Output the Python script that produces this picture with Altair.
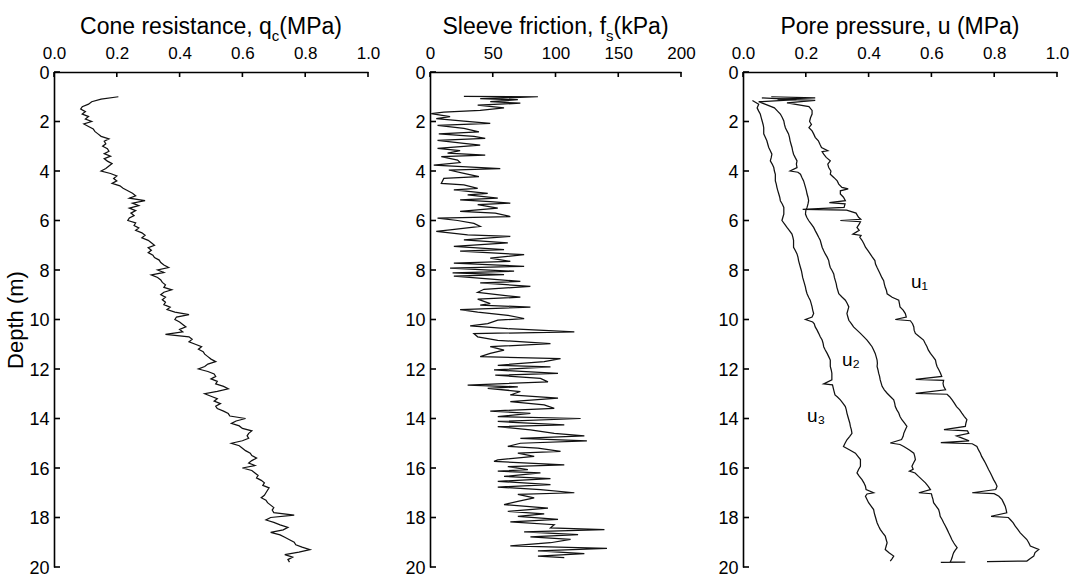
import altair as alt
import pandas as pd

FONT = "Liberation Sans"

# ---------------- data ----------------
depth_ticks = [0, 2, 4, 6, 8, 10, 12, 14, 16, 18, 20]
qc_ticks = [0.0, 0.2, 0.4, 0.6, 0.8, 1.0]
fs_ticks = [0, 50, 100, 150, 200]
u_ticks = [0.0, 0.2, 0.4, 0.6, 0.8, 1.0]

# Cone resistance qc (MPa)
qc_depth = [1.0, 1.1, 1.2, 1.3, 1.4, 1.5, 1.6, 1.7, 1.8, 1.9, 2.0, 2.1, 2.2, 2.3, 2.4, 2.5, 2.6, 2.7, 2.8, 2.9,
            3.0, 3.1, 3.2, 3.3, 3.4, 3.5, 3.6, 3.7, 3.8, 3.9, 4.0, 4.1, 4.2, 4.3, 4.4, 4.5, 4.6, 4.7, 4.8, 4.9,
            5.0, 5.1, 5.2, 5.3, 5.4, 5.5, 5.6, 5.7, 5.8, 5.9, 6.0, 6.1, 6.2, 6.3, 6.4, 6.5, 6.6, 6.7, 6.8, 6.9,
            7.0, 7.1, 7.2, 7.3, 7.4, 7.5, 7.6, 7.7, 7.8, 7.9, 8.0, 8.1, 8.2, 8.3, 8.4, 8.5, 8.6, 8.7, 8.8, 8.9,
            9.0, 9.1, 9.2, 9.3, 9.4, 9.5, 9.6, 9.7, 9.8, 9.9, 10.0, 10.1, 10.2, 10.3, 10.4, 10.5, 10.6, 10.7, 10.8, 10.9,
            11.0, 11.1, 11.2, 11.3, 11.4, 11.5, 11.6, 11.7, 11.8, 11.9, 12.0, 12.1, 12.2, 12.3, 12.4, 12.5, 12.6, 12.7, 12.8, 12.9,
            13.0, 13.1, 13.2, 13.3, 13.4, 13.5, 13.6, 13.7, 13.8, 13.9, 14.0, 14.1, 14.2, 14.3, 14.4, 14.5, 14.6, 14.7, 14.8, 14.9,
            15.0, 15.1, 15.2, 15.3, 15.4, 15.5, 15.6, 15.7, 15.8, 15.9, 16.0, 16.1, 16.2, 16.3, 16.4, 16.5, 16.6, 16.7, 16.8, 16.9,
            17.0, 17.1, 17.2, 17.3, 17.4, 17.5, 17.6, 17.7, 17.8, 17.9, 18.0, 18.1, 18.2, 18.3, 18.4, 18.5, 18.6, 18.7, 18.8, 18.9,
            19.0, 19.1, 19.2, 19.3, 19.4, 19.5, 19.6, 19.7, 19.8]
qc_value = [0.205, 0.15, 0.12, 0.11, 0.09, 0.085, 0.10, 0.09, 0.11, 0.10, 0.12, 0.095, 0.11, 0.125, 0.13, 0.14, 0.15, 0.175, 0.16, 0.165,
            0.155, 0.17, 0.175, 0.16, 0.18, 0.16, 0.17, 0.185, 0.175, 0.165, 0.15, 0.18, 0.20, 0.19, 0.20, 0.185, 0.21, 0.22, 0.235, 0.25,
            0.26, 0.24, 0.29, 0.25, 0.27, 0.24, 0.26, 0.245, 0.255, 0.24, 0.235, 0.26, 0.255, 0.27, 0.26, 0.28, 0.29, 0.28, 0.30, 0.31,
            0.32, 0.30, 0.31, 0.30, 0.315, 0.32, 0.335, 0.34, 0.35, 0.365, 0.33, 0.35, 0.31, 0.33, 0.34, 0.345, 0.355, 0.35, 0.375, 0.35,
            0.34, 0.355, 0.345, 0.355, 0.35, 0.37, 0.36, 0.385, 0.43, 0.39, 0.385, 0.40, 0.41, 0.42, 0.40, 0.41, 0.355, 0.43, 0.44, 0.43,
            0.45, 0.47, 0.46, 0.475, 0.48, 0.49, 0.50, 0.515, 0.49, 0.48, 0.46, 0.49, 0.51, 0.515, 0.50, 0.52, 0.515, 0.54, 0.555, 0.52,
            0.48, 0.50, 0.52, 0.51, 0.53, 0.515, 0.52, 0.54, 0.555, 0.56, 0.61, 0.58, 0.565, 0.59, 0.60, 0.63, 0.62, 0.615, 0.62, 0.60,
            0.565, 0.59, 0.60, 0.61, 0.625, 0.63, 0.645, 0.63, 0.62, 0.64, 0.60, 0.63, 0.64, 0.65, 0.645, 0.66, 0.67, 0.665, 0.685, 0.68,
            0.675, 0.67, 0.66, 0.675, 0.68, 0.69, 0.70, 0.695, 0.70, 0.765, 0.69, 0.675, 0.70, 0.72, 0.745, 0.73, 0.69, 0.72, 0.735, 0.75,
            0.765, 0.77, 0.79, 0.815, 0.78, 0.735, 0.76, 0.745, 0.75]

# Sleeve friction fs (kPa)
fs_depth = [0.98, 1.00, 1.08, 1.12, 1.20, 1.26, 1.34, 1.45, 1.55, 1.62, 1.68, 1.80, 1.88, 1.98, 2.08, 2.16, 2.28, 2.42, 2.50, 2.60,
            2.68, 2.76, 2.88, 2.95, 3.09, 3.18, 3.28, 3.36, 3.42, 3.56, 3.66, 3.76, 3.90, 3.96, 4.10, 4.23, 4.30, 4.50, 4.56, 4.70,
            4.76, 4.90, 4.96, 5.10, 5.17, 5.24, 5.30, 5.36, 5.50, 5.63, 5.70, 5.84, 5.90, 6.00, 6.12, 6.24, 6.38, 6.44, 6.58, 6.64,
            6.78, 6.90, 7.05, 7.18, 7.24, 7.38, 7.52, 7.65, 7.72, 7.85, 7.92, 8.05, 8.12, 8.19, 8.25, 8.46, 8.52, 8.66, 8.78, 8.90,
            9.10, 9.18, 9.36, 9.42, 9.50, 9.60, 9.70, 9.83, 9.96, 10.03, 10.17, 10.26, 10.37, 10.50, 10.57, 10.70, 10.84, 10.97, 11.10, 11.24,
            11.37, 11.50, 11.58, 11.70, 11.85, 11.91, 12.04, 12.18, 12.25, 12.38, 12.52, 12.65, 12.72, 12.78, 12.91, 13.05, 13.18, 13.32, 13.45, 13.59,
            13.70, 13.79, 13.92, 14.00, 14.12, 14.26, 14.33, 14.46, 14.60, 14.70, 14.80, 14.90, 15.00, 15.13, 15.20, 15.33, 15.40, 15.53, 15.67, 15.73,
            15.87, 15.94, 16.07, 16.13, 16.20, 16.34, 16.43, 16.54, 16.67, 16.77, 16.87, 17.00, 17.07, 17.21, 17.35, 17.48, 17.62, 17.75, 17.85, 17.95,
            18.08, 18.18, 18.29, 18.42, 18.49, 18.58, 18.69, 18.78, 18.88, 19.02, 19.15, 19.25, 19.35, 19.46, 19.56, 19.62]
fs_value = [27, 86, 40, 70, 48, 72, 38, 59, 40, 11, 1, 16, 5, 27, 48, 6, 27, 39, 7, 35,
            44, 6, 27, 40, 6, 24, 14, 44, 9, 22, 24, 3, 56, 15, 27, 39, 11, 9, 27, 38,
            19, 46, 30, 54, 24, 48, 64, 38, 54, 24, 52, 64, 6, 22, 35, 40, 16, 5, 30, 64,
            27, 62, 19, 59, 24, 75, 48, 64, 19, 75, 16, 67, 18, 59, 19, 72, 40, 80, 43, 38,
            72, 38, 48, 40, 80, 24, 38, 62, 75, 54, 46, 32, 62, 115, 35, 38, 54, 96, 48, 59,
            48, 40, 104, 91, 54, 96, 51, 102, 52, 88, 94, 30, 70, 46, 72, 64, 102, 64, 91, 99,
            48, 80, 54, 120, 54, 107, 54, 80, 99, 123, 72, 125, 72, 62, 86, 104, 70, 83, 54, 51,
            107, 62, 78, 54, 88, 59, 96, 54, 96, 54, 88, 115, 70, 83, 70, 59, 94, 62, 91, 70,
            102, 64, 99, 96, 139, 75, 118, 80, 112, 96, 64, 141, 86, 123, 86, 107]

# Pore pressures (MPa)
u1_depth = [1.00, 1.05, 1.10, 1.15, 1.25, 1.40, 1.55, 1.70, 1.85, 2.00, 2.12, 2.25, 2.38, 2.50, 2.64, 2.78, 2.92, 3.05, 3.18, 3.22,
            3.32, 3.45, 3.59, 3.72, 3.86, 4.00, 4.13, 4.27, 4.40, 4.53, 4.66, 4.72, 4.80, 4.93, 5.06, 5.20, 5.28, 5.33, 5.47, 5.55,
            5.58, 5.70, 5.87, 5.95, 6.00, 6.05, 6.15, 6.28, 6.40, 6.55, 6.60, 6.68, 6.80, 6.94, 7.08, 7.22, 7.35, 7.48, 7.62, 7.76,
            7.90, 8.03, 8.16, 8.30, 8.43, 8.56, 8.70, 8.83, 8.96, 9.10, 9.22, 9.35, 9.49, 9.62, 9.76, 9.90, 10.00, 10.05, 10.17, 10.30,
            10.43, 10.56, 10.70, 10.83, 10.96, 11.10, 11.23, 11.37, 11.50, 11.64, 11.77, 11.90, 12.04, 12.17, 12.30, 12.42, 12.46, 12.58, 12.70, 12.84,
            12.98, 13.02, 13.12, 13.25, 13.38, 13.52, 13.65, 13.78, 13.92, 14.05, 14.18, 14.32, 14.45, 14.50, 14.60, 14.70, 14.80, 14.90, 14.97, 15.02,
            15.13, 15.27, 15.40, 15.53, 15.66, 15.80, 15.93, 16.06, 16.20, 16.33, 16.47, 16.60, 16.74, 16.87, 17.00, 17.04, 17.14, 17.28, 17.41, 17.54,
            17.68, 17.81, 17.95, 18.00, 18.08, 18.21, 18.35, 18.48, 18.62, 18.75, 18.89, 19.02, 19.15, 19.29, 19.42, 19.56, 19.66, 19.76, 19.78]
u1_value = [0.09, 0.23, 0.11, 0.23, 0.14, 0.21, 0.22, 0.22, 0.215, 0.212, 0.218, 0.21, 0.22, 0.225, 0.23, 0.24, 0.245, 0.25, 0.27, 0.252,
            0.257, 0.265, 0.278, 0.27, 0.273, 0.28, 0.278, 0.29, 0.30, 0.305, 0.315, 0.335, 0.31, 0.31, 0.32, 0.326, 0.275, 0.325, 0.322, 0.19,
            0.33, 0.36, 0.368, 0.375, 0.31, 0.374, 0.37, 0.363, 0.37, 0.35, 0.376, 0.372, 0.379, 0.385, 0.39, 0.398, 0.405, 0.412, 0.42, 0.422,
            0.427, 0.432, 0.437, 0.442, 0.448, 0.45, 0.453, 0.457, 0.459, 0.475, 0.496, 0.498, 0.50, 0.51, 0.517, 0.52, 0.485, 0.533, 0.54, 0.544,
            0.545, 0.549, 0.562, 0.575, 0.58, 0.586, 0.59, 0.597, 0.605, 0.613, 0.615, 0.618, 0.624, 0.629, 0.633, 0.55, 0.639, 0.637, 0.639, 0.645,
            0.55, 0.65, 0.658, 0.666, 0.673, 0.68, 0.69, 0.697, 0.705, 0.713, 0.71, 0.708, 0.64, 0.715, 0.719, 0.68, 0.70, 0.72, 0.63, 0.73,
            0.745, 0.75, 0.756, 0.76, 0.766, 0.772, 0.777, 0.782, 0.788, 0.793, 0.798, 0.804, 0.809, 0.805, 0.73, 0.80, 0.815, 0.825, 0.83, 0.835,
            0.838, 0.84, 0.79, 0.845, 0.851, 0.86, 0.867, 0.875, 0.883, 0.893, 0.904, 0.91, 0.915, 0.942, 0.93, 0.926, 0.915, 0.904, 0.777]

u2_depth = [1.05, 1.12, 1.20, 1.30, 1.45, 1.58, 1.70, 1.84, 1.98, 2.12, 2.25, 2.38, 2.50, 2.64, 2.78, 2.92, 3.05, 3.18, 3.32, 3.45,
            3.59, 3.72, 3.86, 4.00, 4.05, 4.13, 4.27, 4.40, 4.53, 4.66, 4.80, 4.93, 5.06, 5.20, 5.33, 5.47, 5.60, 5.74, 5.87, 6.00,
            6.14, 6.28, 6.41, 6.55, 6.68, 6.80, 6.94, 7.08, 7.22, 7.35, 7.48, 7.62, 7.76, 7.90, 8.03, 8.16, 8.30, 8.43, 8.56, 8.70,
            8.83, 8.96, 9.10, 9.22, 9.35, 9.49, 9.62, 9.76, 9.90, 10.03, 10.17, 10.30, 10.43, 10.56, 10.70, 10.83, 10.96, 11.10, 11.23, 11.37,
            11.50, 11.64, 11.77, 11.90, 12.04, 12.17, 12.30, 12.44, 12.57, 12.70, 12.84, 12.98, 13.12, 13.25, 13.38, 13.52, 13.65, 13.78, 13.92, 14.05,
            14.18, 14.32, 14.45, 14.60, 14.72, 14.85, 14.99, 15.05, 15.13, 15.27, 15.40, 15.53, 15.66, 15.80, 15.93, 16.05, 16.13, 16.20, 16.34, 16.47,
            16.60, 16.74, 16.87, 17.00, 17.04, 17.14, 17.27, 17.40, 17.54, 17.68, 17.81, 17.95, 18.08, 18.21, 18.35, 18.48, 18.62, 18.75, 18.89, 19.02,
            19.12, 19.22, 19.32, 19.42, 19.52, 19.62, 19.72, 19.79, 19.80, 19.81]
u2_value = [0.06, 0.17, 0.05, 0.07, 0.10, 0.11, 0.119, 0.125, 0.13, 0.132, 0.135, 0.14, 0.145, 0.148, 0.15, 0.153, 0.156, 0.158, 0.161, 0.166,
            0.172, 0.17, 0.172, 0.15, 0.175, 0.183, 0.188, 0.193, 0.196, 0.199, 0.202, 0.204, 0.207, 0.209, 0.207, 0.204, 0.20, 0.199, 0.203, 0.209,
            0.217, 0.225, 0.23, 0.236, 0.241, 0.246, 0.249, 0.252, 0.257, 0.262, 0.268, 0.273, 0.275, 0.278, 0.284, 0.289, 0.291, 0.294, 0.297, 0.299,
            0.302, 0.305, 0.316, 0.326, 0.332, 0.337, 0.334, 0.331, 0.334, 0.337, 0.345, 0.352, 0.363, 0.374, 0.385, 0.395, 0.403, 0.411, 0.416, 0.421,
            0.424, 0.427, 0.428, 0.427, 0.43, 0.432, 0.435, 0.437, 0.44, 0.443, 0.45, 0.459, 0.47, 0.48, 0.483, 0.485, 0.49, 0.496, 0.50, 0.506,
            0.514, 0.522, 0.517, 0.512, 0.51, 0.505, 0.469, 0.50, 0.512, 0.53, 0.544, 0.547, 0.549, 0.543, 0.538, 0.542, 0.53, 0.548, 0.559, 0.57,
            0.581, 0.59, 0.597, 0.56, 0.60, 0.602, 0.605, 0.607, 0.615, 0.623, 0.626, 0.628, 0.634, 0.639, 0.645, 0.65, 0.655, 0.66, 0.665, 0.671,
            0.676, 0.682, 0.676, 0.671, 0.668, 0.666, 0.663, 0.66, 0.708, 0.63]

u3_depth = [1.15, 1.30, 1.45, 1.58, 1.70, 1.84, 1.98, 2.12, 2.25, 2.38, 2.50, 2.64, 2.78, 2.92, 3.05, 3.18, 3.32, 3.45, 3.59, 3.72,
            3.86, 4.00, 4.13, 4.27, 4.40, 4.53, 4.66, 4.80, 4.93, 5.06, 5.20, 5.33, 5.47, 5.60, 5.74, 5.87, 6.00, 6.14, 6.28, 6.41,
            6.55, 6.68, 6.80, 6.94, 7.08, 7.22, 7.35, 7.48, 7.62, 7.76, 7.90, 8.03, 8.16, 8.30, 8.43, 8.56, 8.70, 8.83, 8.96, 9.10,
            9.22, 9.35, 9.49, 9.62, 9.76, 9.90, 10.00, 10.10, 10.17, 10.30, 10.43, 10.56, 10.70, 10.83, 10.96, 11.10, 11.23, 11.37, 11.50, 11.64,
            11.77, 11.90, 12.04, 12.17, 12.30, 12.44, 12.60, 12.64, 12.85, 13.05, 13.12, 13.25, 13.38, 13.52, 13.65, 13.78, 13.92, 14.05, 14.18, 14.32,
            14.45, 14.60, 14.72, 14.86, 15.00, 15.13, 15.27, 15.40, 15.53, 15.66, 15.80, 15.93, 16.06, 16.20, 16.33, 16.47, 16.60, 16.74, 16.87, 17.00,
            17.05, 17.14, 17.27, 17.40, 17.54, 17.68, 17.81, 17.95, 18.08, 18.21, 18.35, 18.48, 18.62, 18.75, 18.89, 19.02, 19.15, 19.29, 19.42, 19.56,
            19.66, 19.76]
u3_value = [0.03, 0.05, 0.045, 0.05, 0.055, 0.058, 0.061, 0.064, 0.066, 0.066, 0.066, 0.071, 0.076, 0.079, 0.082, 0.087, 0.092, 0.09, 0.087, 0.093,
            0.098, 0.10, 0.103, 0.103, 0.103, 0.106, 0.108, 0.111, 0.114, 0.117, 0.119, 0.125, 0.13, 0.13, 0.13, 0.127, 0.124, 0.132, 0.14, 0.148,
            0.156, 0.159, 0.161, 0.161, 0.161, 0.167, 0.172, 0.175, 0.177, 0.18, 0.183, 0.186, 0.188, 0.19, 0.193, 0.196, 0.199, 0.201, 0.204, 0.209,
            0.214, 0.217, 0.22, 0.222, 0.225, 0.22, 0.199, 0.222, 0.227, 0.23, 0.236, 0.241, 0.246, 0.252, 0.255, 0.257, 0.262, 0.268, 0.273, 0.278,
            0.278, 0.278, 0.281, 0.283, 0.283, 0.283, 0.257, 0.285, 0.289, 0.293, 0.30, 0.31, 0.318, 0.326, 0.329, 0.331, 0.334, 0.337, 0.34, 0.342,
            0.345, 0.347, 0.34, 0.331, 0.325, 0.32, 0.34, 0.358, 0.366, 0.374, 0.374, 0.374, 0.368, 0.363, 0.37, 0.379, 0.385, 0.39, 0.392, 0.416,
            0.395, 0.39, 0.395, 0.40, 0.408, 0.416, 0.418, 0.421, 0.424, 0.427, 0.432, 0.437, 0.445, 0.453, 0.456, 0.459, 0.456, 0.453, 0.465, 0.48,
            0.475, 0.469]

u_label_text = ["u\u2081", "u\u2082", "u\u2083"]
u_label_x = [0.535, 0.315, 0.204]
u_label_depth = [8.73, 11.87, 14.16]

# ---------------- layout helpers ----------------
ARIAL = {"C": 722, "o": 556, "n": 556, "e": 556, " ": 278, "r": 333, "s": 500, "i": 222, "t": 278,
         "a": 556, "c": 500, ",": 278, "q": 556, "(": 333, "M": 833, "P": 667, ")": 333, "S": 667,
         "l": 222, "v": 500, "f": 278, "k": 500, "u": 556, "p": 556}


def text_width(s, size):
    return sum(ARIAL.get(ch, 556) for ch in s) / 1000.0 * size


W1, W2, W3, H = 314, 251, 314, 495
TITLE_SIZE, SUB_SIZE = 23, 15
TITLE_Y = -38
AXIS_COLOR = "black"


def make_axes(xticks, fmt, show_title):
    xaxis = alt.Axis(orient="top", values=xticks, format=fmt, ticks=False, grid=False, title=None,
                     labelFontSize=17, labelFont=FONT, labelColor="black", labelPadding=10,
                     domainColor=AXIS_COLOR, domainWidth=1.6, labelFlush=False)
    yaxis = alt.Axis(orient="left", values=depth_ticks, format="d", ticks=False, grid=False,
                     title="Depth (m)" if show_title else None,
                     titleFontSize=22, titleFont=FONT, titleFontWeight="normal", titleColor="black",
                     titlePadding=1,
                     labelFontSize=18, labelFont=FONT, labelColor="black", labelPadding=5,
                     labelOffset=1,
                     domainColor=AXIS_COLOR, domainWidth=1.6, labelFlush=False)
    return xaxis, yaxis


def title_layers(segments, width):
    total = sum(text_width(s, sz) for s, sz, _ in segments)
    x = width / 2 - total / 2
    layers = []
    for s, sz, dy in segments:
        layers.append(
            alt.Chart(pd.DataFrame({"s": [s]}))
            .mark_text(align="left", baseline="alphabetic", fontSize=sz, font=FONT, color="black")
            .encode(x=alt.value(x), y=alt.value(TITLE_Y + dy), text="s:N")
        )
        x += text_width(s, sz)
    return layers


def panel(df, xdomain, xticks, fmt, width, segments, show_title, labels=None):
    xs = alt.Scale(domain=xdomain, nice=False, zero=False)
    ys = alt.Scale(domain=[0, 20], reverse=True, nice=False)
    xaxis, yaxis = make_axes(xticks, fmt, show_title)
    lines = alt.Chart(df).mark_line(color="#111111", strokeWidth=1.25).encode(
        x=alt.X("v:Q", scale=xs, axis=xaxis),
        y=alt.Y("d:Q", scale=ys, axis=yaxis),
        detail="series:N",
        order="d:Q",
    )
    xt = alt.Chart(pd.DataFrame({"v": xticks})).mark_rule(color=AXIS_COLOR, strokeWidth=1.6).encode(
        x=alt.X("v:Q", scale=xs, axis=xaxis), y=alt.value(0), y2=alt.value(5))
    yt = alt.Chart(pd.DataFrame({"d": depth_ticks})).mark_rule(color=AXIS_COLOR, strokeWidth=1.6).encode(
        y=alt.Y("d:Q", scale=ys, axis=yaxis), x=alt.value(0), x2=alt.value(6))
    layers = [lines, xt, yt] + title_layers(segments, width)
    if labels is not None:
        layers.append(
            alt.Chart(labels).mark_text(align="left", baseline="alphabetic", fontSize=19, font=FONT,
                                        color="black").encode(
                x=alt.X("v:Q", scale=xs, axis=xaxis),
                y=alt.Y("d:Q", scale=ys, axis=yaxis),
                text="t:N")
        )
    return alt.layer(*layers).properties(width=width, height=H)


qc_df = pd.DataFrame({"d": qc_depth, "v": qc_value, "series": "qc"})
fs_df = pd.DataFrame({"d": fs_depth, "v": fs_value, "series": "fs"})
u_df = pd.concat([
    pd.DataFrame({"d": u1_depth, "v": u1_value, "series": "u1"}),
    pd.DataFrame({"d": u2_depth, "v": u2_value, "series": "u2"}),
    pd.DataFrame({"d": u3_depth, "v": u3_value, "series": "u3"}),
], ignore_index=True)
lab_df = pd.DataFrame({"v": u_label_x, "d": u_label_depth, "t": u_label_text})

p1 = panel(qc_df, [0, 1], qc_ticks, ".1f", W1,
           [("Cone resistance, q", TITLE_SIZE, 0), ("c", SUB_SIZE, 7), ("(MPa)", TITLE_SIZE, 0)], True)
p2 = panel(fs_df, [0, 200], fs_ticks, "d", W2,
           [("Sleeve friction, f", TITLE_SIZE, 0), ("s", SUB_SIZE, 7), ("(kPa)", TITLE_SIZE, 0)], False)
p3 = panel(u_df, [0, 1], u_ticks, ".1f", W3,
           [("Pore pressure, u (MPa)", TITLE_SIZE, 0)], False, labels=lab_df)

chart = (
    alt.hconcat(p1, p2, p3, spacing=62, bounds="flush")
    .configure(font=FONT, background="white")
    .configure_view(stroke=None)
    .properties(padding={"left": 4, "top": 16, "right": 5, "bottom": 2})
)

chart.save("out.html", embed_options={"renderer": "svg", "actions": False})
